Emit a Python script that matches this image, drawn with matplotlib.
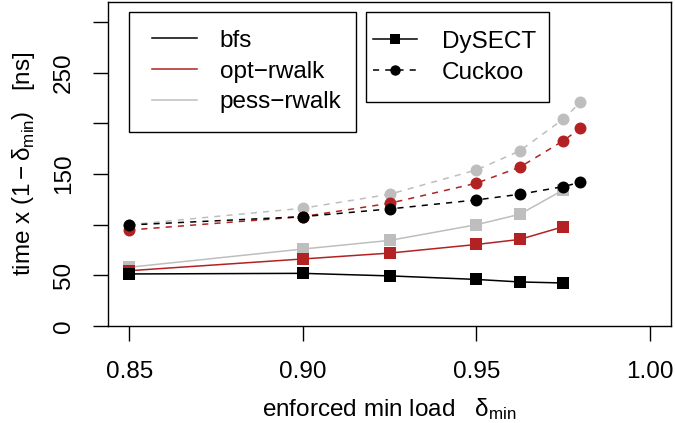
import matplotlib
matplotlib.use("Agg")
import matplotlib.pyplot as plt
from matplotlib.lines import Line2D
from matplotlib.patches import Rectangle

plt.rcParams['font.family'] = ['Liberation Sans', 'DejaVu Sans']
plt.rcParams['mathtext.fontset'] = 'custom'
plt.rcParams['mathtext.rm'] = 'Liberation Sans'
plt.rcParams['mathtext.it'] = 'Liberation Sans:italic'
plt.rcParams['mathtext.sf'] = 'Liberation Sans'

# ---- data ----
x_dysect = [0.85, 0.90, 0.925, 0.95, 0.9625, 0.975]
x_cuckoo = [0.85, 0.90, 0.925, 0.95, 0.9625, 0.975, 0.98]

dysect_bfs = [51.4, 52, 49.5, 46, 43.5, 42.5]
dysect_opt = [54.6, 66.2, 72, 80.5, 85.5, 98]
dysect_pess = [58, 76, 84.5, 100, 110.3, 134.3]

cuckoo_bfs = [99.8, 108, 115.6, 124.5, 130.1, 137.6, 142]
cuckoo_opt = [94.8, 108, 121.2, 141, 156.8, 182.8, 195.3]
cuckoo_pess = [100, 116.3, 130.1, 154.1, 172.9, 204.2, 221]

strategies = ["bfs", "opt\u2212rwalk", "pess\u2212rwalk"]
colors = ["black", "#B22222", "#BEBEBE"]
tables = ["DySECT", "Cuckoo"]

x_ticks = [0.85, 0.90, 0.95, 1.00]
x_ticklabels = ["0.85", "0.90", "0.95", "1.00"]
y_ticks = [0, 50, 100, 150, 200, 250, 300]
y_ticklabels = ["0", "50", "", "150", "", "250", ""]

FS = 17.5

fig = plt.figure(figsize=(6.75, 4.23), dpi=100)
L, R, B, T = 108.3, 670.7, 326.0, 2.0
W, H = 675.0, 423.0
ax = fig.add_axes([L / W, 1 - B / H, (R - L) / W, (B - T) / H])

dys = [dysect_bfs, dysect_opt, dysect_pess]
cuc = [cuckoo_bfs, cuckoo_opt, cuckoo_pess]
lw = 1.1
ms_sq = 8.3
ms_ci = 8.6
for i in [2, 1, 0]:
    z = 3 + (2 - i)
    ax.plot(x_dysect, dys[i], color=colors[i], lw=lw, marker='s', ms=ms_sq,
            mec=colors[i], mew=0, zorder=z)
    ax.plot(x_cuckoo, cuc[i], color=colors[i], lw=lw, marker='o', ms=ms_ci,
            mec=colors[i], mew=0, dashes=(4, 4), zorder=z + 0.5)

ax.set_xlim(0.844, 1.006)
ax.set_ylim(0, 320)
ax.set_xticks(x_ticks)
ax.set_xticklabels(x_ticklabels)
ax.set_yticks(y_ticks)
ax.set_yticklabels(y_ticklabels, rotation=90, va='center')
ax.tick_params(axis='both', direction='out', length=10.8, width=1.0,
               labelsize=FS, color='black')
ax.tick_params(axis='x', pad=14.5)
ax.tick_params(axis='y', pad=13)
for s in ax.spines.values():
    s.set_linewidth(1.0)

ax.set_xlabel(r"enforced min load   $\mathrm{\delta}_{\mathrm{min}}$", fontsize=FS, labelpad=9)
ax.set_ylabel(r"time x $\left(1 - \mathrm{\delta}_{\mathrm{min}}\right)$   [ns]",
              fontsize=FS, labelpad=11)

def px2ax(px, py):
    return ((px - L) / (R - L), (B - py) / (B - T))

# legend 1 frame + content
x0, y0 = px2ax(129, 132)
x1, y1 = px2ax(356, 12.3)
ax.add_patch(Rectangle((x0, y0), x1 - x0, y1 - y0, transform=ax.transAxes,
                       fill=True, fc='white', ec='black', lw=1.0, zorder=10))
h1 = [Line2D([], [], color=c, lw=lw) for c in colors]
ax_, ay_ = px2ax(151.7, 71.7)
leg1 = ax.legend(h1, strategies, loc='center left', bbox_to_anchor=(ax_, ay_),
                 frameon=False, fontsize=FS, handlelength=1.87, handletextpad=0.92,
                 labelspacing=0.36, borderpad=0, borderaxespad=0)
leg1.set_zorder(11)
ax.add_artist(leg1)

# legend 2 frame + content
x0, y0 = px2ax(366, 101.7)
x1, y1 = px2ax(549, 12.3)
ax.add_patch(Rectangle((x0, y0), x1 - x0, y1 - y0, transform=ax.transAxes,
                       fill=True, fc='white', ec='black', lw=1.0, zorder=10))
h2 = [Line2D([], [], color='black', lw=lw, marker='s', ms=7, mew=0),
      Line2D([], [], color='black', lw=lw, marker='o', ms=7.5, mew=0, dashes=(4, 4))]
ax_, ay_ = px2ax(372.7, 57.3)
leg2 = ax.legend(h2, tables, loc='center left', bbox_to_anchor=(ax_, ay_),
                 frameon=False, fontsize=FS, handlelength=1.84, handletextpad=1.0,
                 labelspacing=0.36, borderpad=0, borderaxespad=0)
leg2.set_zorder(11)

fig.savefig("out.png", dpi=100)
